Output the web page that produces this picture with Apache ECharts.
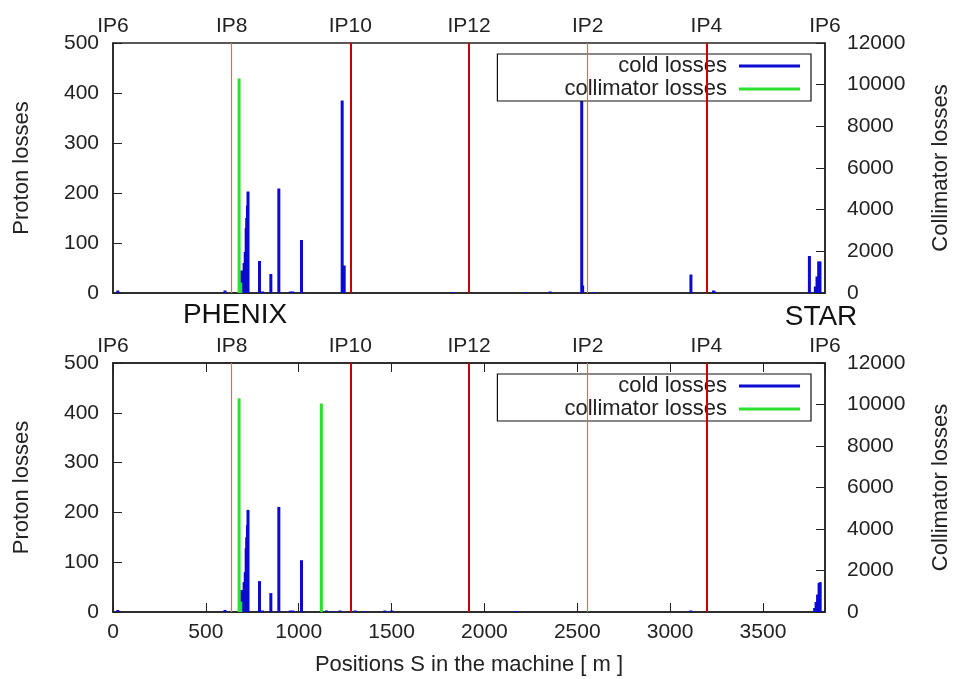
<!DOCTYPE html>
<html>
<head>
<meta charset="utf-8">
<title>Proton losses around the ring</title>
<script src="https://cdn.jsdelivr.net/npm/echarts@6/dist/echarts.min.js"></script>
<style>
html, body { margin: 0; padding: 0; background: #fff; }
#chart { width: 954px; height: 679px; }
</style>
</head>
<body>
<div id="chart"></div>
<script>
// ring length and interaction points
var ring = 3834;
var ipNames = ['IP6', 'IP8', 'IP10', 'IP12', 'IP2', 'IP4', 'IP6'];
var ipPos = [0, 639, 1278, 1917, 2556, 3195, 3834];
var ipStrong = [false, false, true, true, false, true, false];

// upper panel
var topColdS = [26, 603, 693, 700, 706, 712, 717, 720, 724, 727, 789, 805, 850, 893, 955, 968, 1015, 1234, 1245, 1830, 2228, 2354, 2524, 2529, 2593, 3112, 3234, 3240, 3750, 3782, 3791, 3800, 3807];
var topColdLoss = [5, 5, 45, 44, 60, 82, 130, 150, 175, 203, 64, 3, 38, 209, 3, 3, 106, 385, 55, 2, 2, 3, 399, 15, 2, 37, 5, 3, 74, 13, 33, 63, 63];
var topCollS = [679, 688];
var topCollLoss = [10300, 500];

// lower panel
var botColdS = [26, 603, 693, 700, 706, 712, 717, 720, 724, 727, 789, 805, 850, 893, 955, 968, 1015, 1150, 1185, 1222, 1304, 1357, 1464, 1501, 2170, 3112, 3778, 3786, 3794, 3802, 3808];
var botColdLoss = [4, 4, 44, 43, 60, 80, 128, 150, 175, 205, 62, 3, 38, 211, 3, 3, 104, 3, 2, 3, 3, 2, 3, 3, 2, 3, 8, 20, 35, 58, 60];
var botCollS = [679, 688, 1122];
var botCollLoss = [10300, 500, 10050];

var coldColor = '#0a0ad2';
var collColor = '#2ee02e';
var ink = '#222';

function pairs(s, v) {
    var out = [];
    for (var i = 0; i < s.length; i++) {
        out.push([s[i], v[i]]);
    }
    return out;
}

function ipLines() {
    var lines = [];
    for (var i = 1; i < ipPos.length - 1; i++) {
        lines.push({
            xAxis: ipPos[i],
            lineStyle: ipStrong[i]
                ? {color: '#c40000', width: 2, type: 'solid'}
                : {color: '#e06a6a', width: 1.2, type: 'solid'}
        });
    }
    return lines;
}

function ipAxis(grid) {
    return {
        gridIndex: grid, type: 'value', position: 'top',
        min: 0, max: ring, interval: 639,
        axisLine: {show: false, onZero: false}, axisTick: {show: false}, splitLine: {show: false},
        axisLabel: {
            margin: 6, fontSize: 21, color: ink, showMinLabel: true, showMaxLabel: true,
            formatter: function (v) {
                var i = ipPos.indexOf(v);
                return i < 0 ? '' : ipNames[i];
            }
        }
    };
}

function leftAxis(grid) {
    return {
        gridIndex: grid, type: 'value', position: 'left',
        min: 0, max: 500, interval: 100,
        name: 'Proton losses', nameLocation: 'middle', nameRotate: 90, nameGap: 80,
        nameTextStyle: {fontSize: 22, color: ink},
        axisLine: {show: true, onZero: false, lineStyle: {color: ink, width: 1.5}},
        axisTick: {show: true, inside: true, length: 9, lineStyle: {color: ink}},
        axisLabel: {margin: 14, fontSize: 21, color: ink},
        splitLine: {show: false}
    };
}

function rightAxis(grid) {
    return {
        gridIndex: grid, type: 'value', position: 'right',
        min: 0, max: 12000, interval: 2000,
        name: 'Collimator losses', nameLocation: 'middle', nameRotate: 90, nameGap: 105,
        nameTextStyle: {fontSize: 22, color: ink},
        axisLine: {show: true, onZero: false, lineStyle: {color: ink, width: 1.5}},
        axisTick: {show: true, inside: true, length: 9, lineStyle: {color: ink}},
        axisLabel: {
            margin: 22, fontSize: 21, color: ink,
            formatter: function (v) { return String(v); }
        },
        splitLine: {show: false}
    };
}

function legendBox(top) {
    return {
        right: 143, top: top, orient: 'vertical', align: 'right',
        selectedMode: false, icon: 'rect', itemWidth: 61, itemHeight: 3, itemGap: 1,
        padding: [1, 11, 1, 67],
        borderColor: '#111', borderWidth: 1.2, backgroundColor: '#fff',
        textStyle: {fontSize: 22, color: ink, padding: [0, 7, 0, 0]},
        data: ['cold losses', 'collimator losses']
    };
}

var myChart = echarts.init(document.getElementById('chart'));
var option = {
    animation: false,
    textStyle: {fontFamily: 'Liberation Sans, Arial, sans-serif'},
    grid: [
        {left: 113, right: 129, top: 43, height: 250, show: true, borderColor: ink, borderWidth: 1.5,
            containLabel: false, outerBoundsMode: 'none'},
        {left: 113, right: 129, top: 363, height: 249, show: true, borderColor: ink, borderWidth: 1.5,
            containLabel: false, outerBoundsMode: 'none'}
    ],
    legend: [legendBox(54), legendBox(374)],
    xAxis: [
        {
            gridIndex: 0, type: 'value', position: 'bottom', min: 0, max: ring,
            axisLine: {show: true, onZero: false, lineStyle: {color: ink, width: 1.5}},
            axisTick: {show: false}, axisLabel: {show: false}, splitLine: {show: false}
        },
        ipAxis(0),
        {
            gridIndex: 1, type: 'value', position: 'bottom', min: 0, max: ring, interval: 500,
            name: 'Positions S in the machine [ m ]', nameLocation: 'middle', nameGap: 42,
            nameTextStyle: {fontSize: 22, color: ink},
            axisLine: {show: true, onZero: false, lineStyle: {color: ink, width: 1.5}},
            axisTick: {show: true, inside: true, length: 9, lineStyle: {color: ink}},
            axisLabel: {
                margin: 10, fontSize: 21, color: ink,
                formatter: function (v) { return v % 500 === 0 ? String(v) : ''; }
            },
            splitLine: {show: false}
        },
        {
            gridIndex: 1, type: 'value', position: 'top', min: 0, max: ring, interval: 500,
            axisLine: {show: true, onZero: false, lineStyle: {color: ink, width: 1.5}},
            axisTick: {show: true, inside: true, length: 9, lineStyle: {color: ink}},
            axisLabel: {show: false}, splitLine: {show: false}
        },
        ipAxis(1)
    ],
    yAxis: [leftAxis(0), rightAxis(0), leftAxis(1), rightAxis(1)],
    graphic: [
        {type: 'text', x: 235, y: 315, style: {text: 'PHENIX', fontSize: 28, fontFamily: 'Liberation Sans', fill: '#111', align: 'center', verticalAlign: 'middle'}},
        {type: 'text', x: 821, y: 317, style: {text: 'STAR', fontSize: 28, fontFamily: 'Liberation Sans', fill: '#111', align: 'center', verticalAlign: 'middle'}}
    ],
    series: [
        {
            name: 'cold losses', type: 'bar', xAxisIndex: 0, yAxisIndex: 0,
            barWidth: 3, barGap: '-100%', itemStyle: {color: coldColor},
            data: pairs(topColdS, topColdLoss),
            markLine: {silent: true, symbol: 'none', label: {show: false}, data: ipLines()}
        },
        {
            name: 'collimator losses', type: 'bar', xAxisIndex: 0, yAxisIndex: 1,
            barWidth: 3, barGap: '-100%', itemStyle: {color: collColor},
            data: pairs(topCollS, topCollLoss)
        },
        {
            name: 'cold losses', type: 'bar', xAxisIndex: 2, yAxisIndex: 2,
            barWidth: 3, barGap: '-100%', itemStyle: {color: coldColor},
            data: pairs(botColdS, botColdLoss),
            markLine: {silent: true, symbol: 'none', label: {show: false}, data: ipLines()}
        },
        {
            name: 'collimator losses', type: 'bar', xAxisIndex: 2, yAxisIndex: 3,
            barWidth: 3, barGap: '-100%', itemStyle: {color: collColor},
            data: pairs(botCollS, botCollLoss)
        }
    ]
};
myChart.setOption(option);
</script>
</body>
</html>
